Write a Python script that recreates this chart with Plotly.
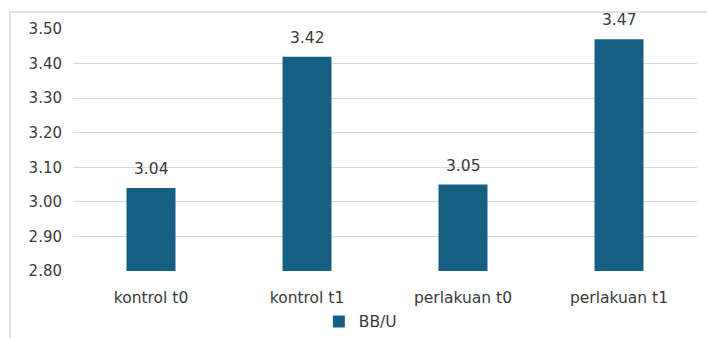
import plotly.graph_objects as go

categories = ["kontrol t0", "kontrol t1", "perlakuan t0", "perlakuan t1"]
bb_u = [3.04, 3.42, 3.05, 3.47]
y_ticks = [2.80, 2.90, 3.00, 3.10, 3.20, 3.30, 3.40, 3.50]
y_floor = 2.80

font_family = "DejaVu Sans, Liberation Sans, sans-serif"
text_color = "#3a3a3a"
bar_color = "#156082"
grid_color = "#d9d9d9"

fig = go.Figure()
fig.add_trace(go.Bar(
    x=categories,
    y=[v - y_floor for v in bb_u],
    base=y_floor,
    name="BB/U",
    marker=dict(color=bar_color, line=dict(width=0)),
))

for c, v in zip(categories, bb_u):
    fig.add_annotation(
        x=c, y=v, text=f"{v:.2f}", showarrow=False,
        yanchor="middle", yshift=19,
        font=dict(family=font_family, size=15.5, color=text_color),
    )

# chart-area frame
fig.add_shape(type="path", xref="paper", yref="paper",
              path="M -0.101,-1 L -0.101,1.0702 L 2,1.0702",
              line=dict(color=grid_color, width=1.5))

fig.update_layout(
    width=707, height=338,
    margin=dict(l=73, r=10, t=29, b=67, autoexpand=False),
    paper_bgcolor="white", plot_bgcolor="white",
    bargap=0.686,
    font=dict(family=font_family, size=15, color=text_color),
    showlegend=True,
    legend=dict(orientation="h", x=0.394, xanchor="left", y=-0.21, yanchor="middle",
                font=dict(size=15.5, color=text_color), itemwidth=30),
    xaxis=dict(showgrid=False, showline=False, ticks="", ticklabelstandoff=15,
               automargin=False, tickfont=dict(size=15.5, color=text_color)),
    yaxis=dict(range=[2.80, 3.50], tickvals=y_ticks, tickformat=".2f",
               showgrid=True, gridcolor=grid_color, gridwidth=1,
               zeroline=False, showline=False, ticks="", ticklabelstandoff=10,
               automargin=False, tickfont=dict(size=15, color=text_color)),
)

fig.write_html("out.html")
